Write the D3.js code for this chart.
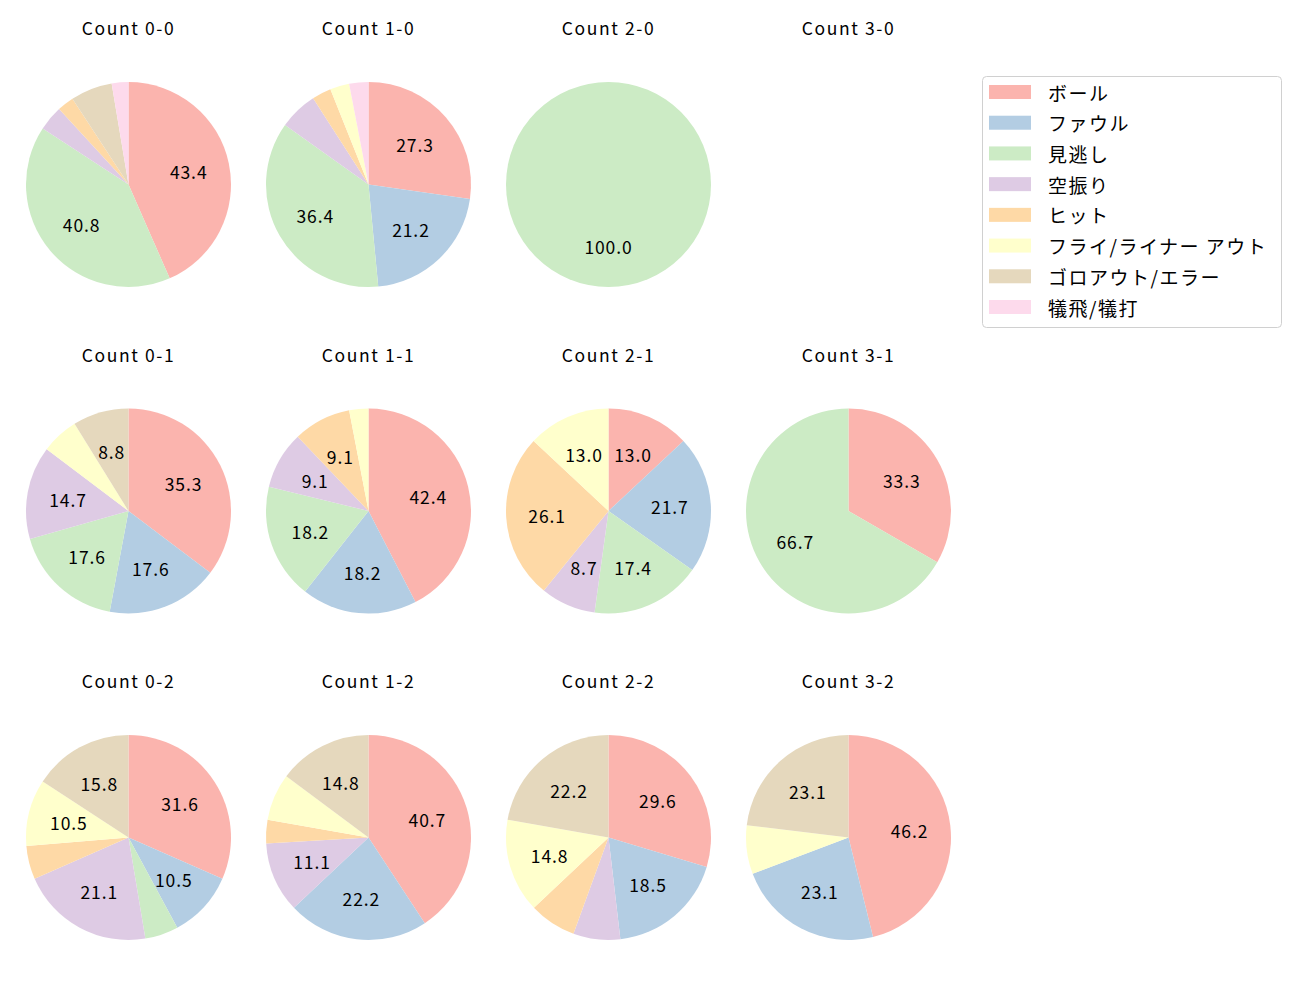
<!DOCTYPE html>
<html><head><meta charset="utf-8">
<script src="https://cdn.jsdelivr.net/npm/d3@7"></script>
<style>body{margin:0;background:#fff;} text{font-family:"Noto Sans CJK JP","Noto Sans",sans-serif;}</style>
</head><body><svg id="c" width="1300" height="1000"></svg>
<script>
const categories = ["ボール","ファウル","見逃し","空振り","ヒット","フライ/ライナー アウト","ゴロアウト/エラー","犠飛/犠打"];
const colors = ["#fbb4ae","#b3cde3","#ccebc5","#decbe4","#fed9a6","#ffffcc","#e5d8bd","#fddaec"];
const countLabels = ["0-0","1-0","2-0","3-0","0-1","1-1","2-1","3-1","0-2","1-2","2-2","3-2"];
// counts per pitch count, in category order
const c00 = [33,0,31,3,2,0,5,2];
const c10 = [9,7,12,2,1,1,0,1];
const c20 = [0,0,1,0,0,0,0,0];
const c30 = [0,0,0,0,0,0,0,0];
const c01 = [12,6,6,5,0,2,3,0];
const c11 = [14,6,6,3,3,1,0,0];
const c21 = [3,5,4,2,6,3,0,0];
const c31 = [1,0,2,0,0,0,0,0];
const c02 = [6,2,1,4,1,2,3,0];
const c12 = [11,6,0,3,1,2,4,0];
const c22 = [8,5,0,2,2,4,6,0];
const c32 = [6,3,0,0,0,1,3,0];
const seriesList = [c00,c10,c20,c30,c01,c11,c21,c31,c02,c12,c22,c32];

const svg = d3.select("#c");
const colX = d3.scaleLinear().domain([0,3]).range([128.5, 848.5]);
const rowY = d3.scaleLinear().domain([0,2]).range([184.5, 837.5]);
const R = 102.5;
const color = d3.scaleOrdinal().domain(categories).range(colors);
const pie = d3.pie().sort(null).value(d=>d.v).startAngle(0).endAngle(2*Math.PI);
const arc = d3.arc().innerRadius(0).outerRadius(R);
const labelArc = d3.arc().innerRadius(R*0.6).outerRadius(R*0.6);

seriesList.forEach((vals,i)=>{
  const col = i%4, row = Math.floor(i/4);
  const cx = colX(col), cy = rowY(row);
  const g = svg.append("g").attr("transform",`translate(${cx},${cy})`);
  g.append("text").attr("x",0).attr("y",-157).attr("text-anchor","middle")
    .attr("dominant-baseline","central").attr("font-size","17.5px").attr("letter-spacing","1.6px").attr("fill","#000")
    .text("Count "+countLabels[i]);
  const total = d3.sum(vals);
  if(total===0) return;
  const data = vals.map((v,k)=>({v, cat:categories[k]}));
  const arcs = pie(data).filter(a=>a.data.v>0);
  g.selectAll("path").data(arcs).join("path").attr("d",arc).attr("fill",d=>color(d.data.cat));
  g.selectAll("text.lab").data(arcs.filter(a=>a.data.v/total*100>=8)).join("text").attr("class","lab")
    .attr("transform",d=>`translate(${labelArc.centroid(d)})`)
    .attr("text-anchor","middle").attr("dominant-baseline","central")
    .attr("font-size","17.5px").attr("letter-spacing","0.9px").attr("fill","#000")
    .text(d=>(d.data.v/total*100).toFixed(1));
});

// legend
const lg = svg.append("g").attr("transform","translate(982,76)");
lg.append("rect").attr("x",0.5).attr("y",0.5).attr("width",299).attr("height",251).attr("rx",4)
  .attr("fill","#fff").attr("stroke","#d0d0d0").attr("stroke-width",1);
const ly = d3.scalePoint().domain(categories).range([16, 231]);
categories.forEach(c=>{
  lg.append("rect").attr("x",7).attr("y",ly(c)-7).attr("width",42).attr("height",14).attr("fill",color(c));
  lg.append("text").attr("x",66).attr("y",ly(c)).attr("dominant-baseline","central")
    .attr("font-size","19px").attr("letter-spacing","1.5px").attr("fill","#000").text(c);
});
</script></body></html>
